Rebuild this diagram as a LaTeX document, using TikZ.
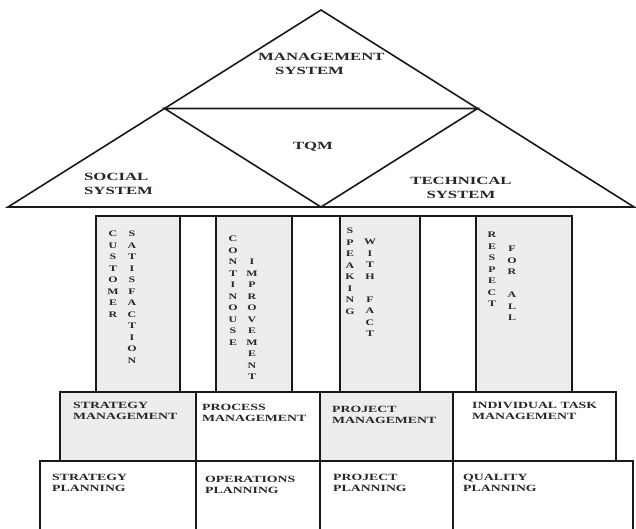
\documentclass[tikz,border=0pt]{standalone}
\usepackage{fontspec}
\newfontfamily\labfont[FakeStretch=1.45]{Liberation Serif}
\newfontfamily\bigfont[FakeStretch=1.52]{Liberation Serif}
\newfontfamily\colfont[FakeStretch=1.4]{Liberation Serif}
\begin{document}
\begin{tikzpicture}[x=1pt,y=-1pt]
\tikzset{
 ln/.style={draw=black!90, line width=1.6pt},
 shaded/.style={ln, fill=black!7},
 plain/.style={ln, fill=white},
 box/.style={anchor=north west, inner sep=0pt, outer sep=0pt},
 lab/.style={anchor=north west, inner sep=0pt, align=left, text=black!85, font=\labfont\bfseries\fontsize{9.5}{11}\selectfont},
 big/.style={inner sep=0pt, text=black!85, font=\bigfont\bfseries\fontsize{11}{14}\selectfont},
 col/.style={anchor=north, inner sep=0pt, align=center, text=black!85, font=\colfont\bfseries\fontsize{8.5}{11.5}\selectfont},
}
\useasboundingbox (0,0) rectangle (636,529);
\clip (0,0) rectangle (636,529);
\fill[white] (0,0) rectangle (636,529);

% triangle roof
\coordinate (A) at (321,10);
\coordinate (L) at (8,207);
\coordinate (R) at (634,207);
\coordinate (ML) at (164.5,108.5);
\coordinate (MR) at (477.5,108.5);
\coordinate (B) at (321,207);
\draw[ln, line join=miter] (A) -- (L) -- (R) -- cycle;
\draw[ln, line join=miter] (ML) -- (MR) -- (B) -- cycle;
\node[big, align=left, anchor=north west] (tmgmt) at (258,53) {MANAGEMENT\\\hspace*{17pt}SYSTEM};
\node[big] (ttqm) at (313,147) {TQM};
\node[big, align=left, anchor=north west] (tsoc) at (84,173) {SOCIAL\\SYSTEM};
\node[big, align=center] (ttech) at (461,188) {TECHNICAL\\SYSTEM};

% bottom row
\node[box, plain, minimum width=156pt, minimum height=80pt] (b1) at (40,461) {};
\node[box, plain, minimum width=124pt, minimum height=80pt] (b2) at (196,461) {};
\node[box, plain, minimum width=133pt, minimum height=80pt] (b3) at (320,461) {};
\node[box, plain, minimum width=180pt, minimum height=80pt] (b4) at (453,461) {};

% middle row
\node[box, shaded, minimum width=136pt, minimum height=69pt] (m1) at (60,392) {};
\node[box, plain, minimum width=124pt, minimum height=69pt] (m2) at (196,392) {};
\node[box, shaded, minimum width=133pt, minimum height=69pt] (m3) at (320,392) {};
\node[box, plain, minimum width=163pt, minimum height=69pt] (m4) at (453,392) {};

% pillars
\node[box, shaded, minimum width=84pt, minimum height=176pt] (p1) at (96,216) {};
\node[box, plain, minimum width=36pt, minimum height=176pt] (g1) at (180,216) {};
\node[box, shaded, minimum width=76pt, minimum height=176pt] (p2) at (216,216) {};
\node[box, plain, minimum width=48pt, minimum height=176pt] (g2) at (292,216) {};
\node[box, shaded, minimum width=80pt, minimum height=176pt] (p3) at (340,216) {};
\node[box, plain, minimum width=56pt, minimum height=176pt] (g3) at (420,216) {};
\node[box, shaded, minimum width=96pt, minimum height=176pt] (p4) at (476,216) {};

% pillar texts
\node[col] (c1a) at (113,231) {C\\U\\S\\T\\O\\M\\E\\R};
\node[col] (c1b) at (132,231) {S\\A\\T\\I\\S\\F\\A\\C\\T\\I\\O\\N};
\node[col] (c2a) at (233,236) {C\\O\\N\\T\\I\\N\\O\\U\\S\\E};
\node[col] (c2b) at (252,259) {I\\M\\P\\R\\O\\V\\E\\M\\E\\N\\T};
\node[col] (c3a) at (350,228) {S\\P\\E\\A\\K\\I\\N\\G};
\node[col] (c3b) at (370,239) {W\\I\\T\\H\\\mbox{}\\F\\A\\C\\T};
\node[col] (c4a) at (492,232) {R\\E\\S\\P\\E\\C\\T};
\node[col] (c4b) at (512,246) {F\\O\\R\\\mbox{}\\A\\L\\L};

% row labels
\node[lab] (l1) at (73,402) {STRATEGY\\MANAGEMENT};
\node[lab] (l2) at (202,404) {PROCESS\\MANAGEMENT};
\node[lab] (l3) at (332,406) {PROJECT\\MANAGEMENT};
\node[lab] (l4) at (472,402) {INDIVIDUAL TASK\\MANAGEMENT};
\node[lab] (l5) at (52,474) {STRATEGY\\PLANNING};
\node[lab] (l6) at (205,476) {OPERATIONS\\PLANNING};
\node[lab] (l7) at (333,474) {PROJECT\\PLANNING};
\node[lab] (l8) at (463,474) {QUALITY\\PLANNING};
\end{tikzpicture}
\end{document}
